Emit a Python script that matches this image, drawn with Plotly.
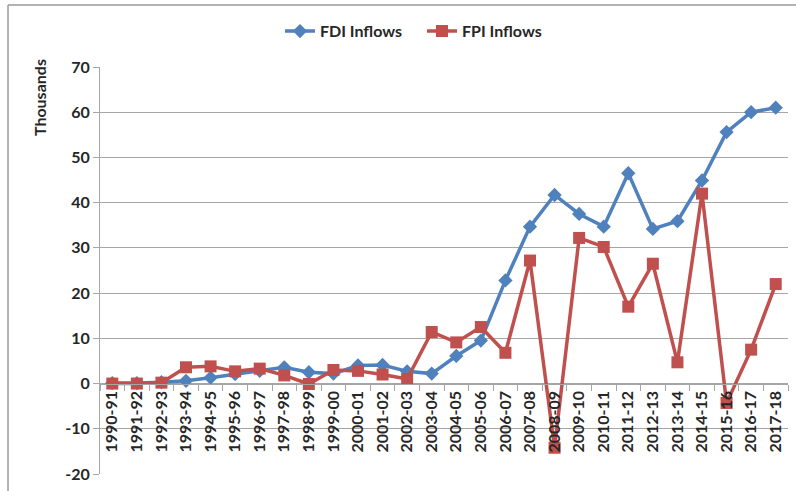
import plotly.graph_objects as go

years = ["1990-91", "1991-92", "1992-93", "1993-94", "1994-95", "1995-96", "1996-97",
         "1997-98", "1998-99", "1999-00", "2000-01", "2001-02", "2002-03", "2003-04",
         "2004-05", "2005-06", "2006-07", "2007-08", "2008-09", "2009-10", "2010-11",
         "2011-12", "2012-13", "2013-14", "2014-15", "2015-16", "2016-17", "2017-18"]

fdi = [0.1, 0.1, 0.3, 0.6, 1.3, 2.1, 2.8, 3.6, 2.5, 2.2, 4.0, 4.1, 2.7, 2.2,
       6.1, 9.5, 22.8, 34.7, 41.7, 37.5, 34.7, 46.5, 34.2, 35.9, 44.9, 55.6, 60.0, 61.0]

fpi = [0.0, 0.0, 0.2, 3.6, 3.8, 2.7, 3.3, 1.8, -0.1, 3.0, 2.8, 2.0, 1.0, 11.4,
       9.1, 12.5, 6.8, 27.2, -14.2, 32.2, 30.2, 17.0, 26.5, 4.7, 42.0, -4.3, 7.5, 22.0]

y_ticks = [-20, -10, 0, 10, 20, 30, 40, 50, 60, 70]
y_tick_text = ["-20", "-10", "0", "10", "20", "30", "40", "50", "60", "70"]

BLUE = "#4F81BD"
RED = "#C0504D"
GRID = "#A6A6A6"
FONT = "Lato"
TXT = "#262626"

fig = go.Figure()
fig.add_trace(go.Scatter(x=years, y=fdi, name="FDI Inflows", mode="lines+markers",
                         line=dict(color=BLUE, width=3.5),
                         marker=dict(symbol="diamond", size=11, color=BLUE)))
fig.add_trace(go.Scatter(x=years, y=fpi, name="FPI Inflows", mode="lines+markers",
                         line=dict(color=RED, width=3.5),
                         marker=dict(symbol="square", size=12, color=RED)))

ymin, ymax = -20, 70
zero_pos = (0 - ymin) / (ymax - ymin)

tick_font = dict(family=FONT, size=16, color=TXT, weight="bold")

fig.update_layout(
    width=796, height=491,
    margin=dict(l=100, r=8, t=67, b=17),
    paper_bgcolor="white", plot_bgcolor="white",
    font=dict(family=FONT, size=15, color=TXT),
    showlegend=True,
    legend=dict(orientation="h", x=0.468, xanchor="center", y=1.088, yanchor="middle",
                font=dict(family=FONT, size=16, color=TXT, weight="bold"), itemwidth=30,
                entrywidth=97, entrywidthmode="pixels",
                bgcolor="rgba(0,0,0,0)"),
    xaxis=dict(type="category", categoryorder="array", categoryarray=years,
               range=[-0.5, len(years) - 0.5],
               anchor="free", position=zero_pos,
               showgrid=False, zeroline=False,
               showline=True, linecolor=GRID, linewidth=1,
               ticks="outside", ticklen=6, tickcolor=GRID, tickson="boundaries",
               tickangle=-90, tickfont=tick_font),
    yaxis=dict(range=[ymin, ymax], tickvals=y_ticks, ticktext=y_tick_text,
               showgrid=True, gridcolor=GRID, gridwidth=1,
               zeroline=False,
               showline=True, linecolor=GRID, linewidth=1,
               ticks="outside", ticklen=6, tickcolor=GRID,
               tickfont=tick_font),
    annotations=[dict(text="Thousands", xref="paper", yref="paper",
                      x=-0.087, y=0.924, showarrow=False, textangle=-90,
                      font=tick_font,
                      xanchor="center", yanchor="middle")],
    shapes=[
        dict(type="line", xref="paper", yref="paper", x0=-0.1337, x1=1.02,
             y0=1.1523, y1=1.1523, line=dict(color="#9A9A9A", width=1.5)),
        dict(type="line", xref="paper", yref="paper", x0=-0.1337, x1=-0.1337,
             y0=1.1523, y1=-0.05, line=dict(color="#9A9A9A", width=1.5)),
    ],
)

fig.write_html("out.html")
